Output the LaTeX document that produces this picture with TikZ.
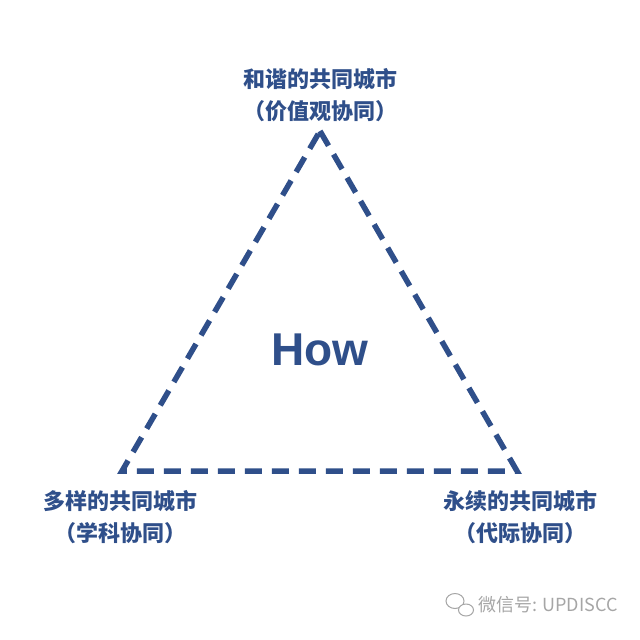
\documentclass[tikz,border=0pt]{standalone}
\usepackage{fontspec}
\setmainfont{Liberation Sans}
\newfontfamily\cjk{Noto Sans CJK SC}
\definecolor{navy}{HTML}{2F4F8A}
\begin{document}
\begin{tikzpicture}[x=1pt,y=-1pt,
  lab/.style={text=navy,font=\cjk\bfseries\fontsize{22}{24}\selectfont,inner sep=0pt},
  edge/.style={draw=navy,line width=5.5pt,dash pattern=on 17pt off 10pt}]
\useasboundingbox (0,0) rectangle (640,640);
\fill[white] (0,0) rectangle (640,640);
\coordinate (A) at (320,131);
\coordinate (B) at (122,471);
\coordinate (C) at (517,471);
\draw[edge,line join=miter] (A) -- (C) -- (B) -- cycle;
\node[text=navy,font=\bfseries\fontsize{46}{48}\selectfont] (how) at (320,350) {How};
\node[lab] (t1) at (320,79) {和谐的共同城市};
\node[lab] (t2) at (320,111) {（价值观协同）};
\node[lab] (l1) at (120,501) {多样的共同城市};
\node[lab] (l2) at (120,533) {（学科协同）};
\node[lab] (r1) at (520,501) {永续的共同城市};
\node[lab] (r2) at (520,533) {（代际协同）};
\node[text=gray!70,font=\cjk\fontsize{18}{20}\selectfont,anchor=west,inner sep=0pt] (wm) at (478,605) {微信号: UPDISCC};
\draw[gray!70,line width=1pt] (455,601) ellipse (9 and 7.5);
\draw[gray!70,line width=1pt,fill=white] (466,610) ellipse (7.5 and 6);
\end{tikzpicture}
\end{document}
